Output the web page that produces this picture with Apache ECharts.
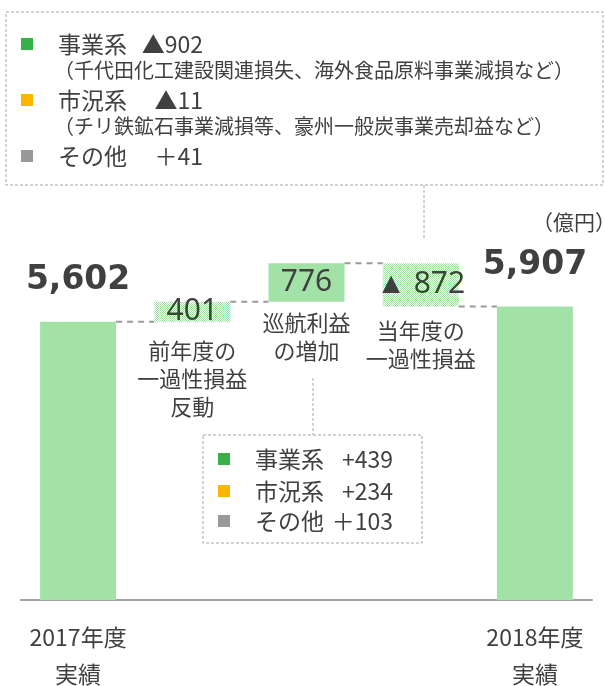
<!DOCTYPE html>
<html>
<head>
<meta charset="utf-8">
<script src="https://cdn.jsdelivr.net/npm/echarts@6/dist/echarts.min.js"></script>
<style>
html,body{margin:0;padding:0;background:#fff;}
#chart{width:605px;height:686px;}
</style>
</head>
<body>
<div id="chart"></div>
<script>
// ---- data ----
const categories = ['2017年度\n実績', '前年度の\n一過性損益\n反動', '巡航利益\nの増加', '当年度の\n一過性損益', '2018年度\n実績'];
const startValue = 5602;
const changes = [401, 776, -872];
const endValue = 5907;
const valueLabels = ['5,602', '401', '776', '▲ 872', '5,907'];
const topNoteNames = ['事業系', '市況系', 'その他'];
const topNoteValues = ['▲902', '▲11', '＋41'];
const topNoteDetails = ['（千代田化工建設関連損失、海外食品原料事業減損など）', '（チリ鉄鉱石事業減損等、豪州一般炭事業売却益など）', ''];
const midNoteNames = ['事業系', '市況系', 'その他'];
const midNoteValues = ['+439', '+234', '＋103'];
const noteColors = ['#37b047', '#fbb700', '#999999'];
const unitLabel = '（億円）';

// ---- build waterfall ----
const baseData = [0];
const barData = [startValue];
const levels = [startValue];
let cur = startValue;
changes.forEach(c => {
  const next = cur + c;
  baseData.push(Math.min(cur, next));
  barData.push(Math.abs(c));
  cur = next;
  levels.push(cur);
});
baseData.push(0);
barData.push(endValue);

const GREEN = '#a3e2a7';
const pc = document.createElement('canvas');
pc.width = 2; pc.height = 2;
const pctx = pc.getContext('2d');
pctx.fillStyle = '#ffffff'; pctx.fillRect(0, 0, 2, 2);
pctx.fillStyle = '#9fe0a3'; pctx.fillRect(0, 0, 1, 1); pctx.fillRect(1, 1, 1, 1);
const pattern = { image: pc, repeat: 'repeat' };

const CJK = '"Noto Sans CJK JP", "Noto Sans", sans-serif';
const TXT = '#404040';
const BW = 76;

const labelDist = [0, 15, 7, 10, 0];

const chart = echarts.init(document.getElementById('chart'), null, { renderer: 'canvas' });

const graphics = [];
// top note box
graphics.push({ type: 'rect', shape: { x: 6, y: 12, width: 597, height: 173 }, style: { fill: 'none', stroke: '#a6a6a6', lineWidth: 1, lineDash: [3, 2] } });
graphics.push({ type: 'line', shape: { x1: 424, y1: 185, x2: 424, y2: 238 }, style: { stroke: '#a6a6a6', lineWidth: 1, lineDash: [3, 2] } });
const topRows = [44, 100, 156];
const detailRows = [70, 126];
topNoteNames.forEach((n, i) => {
  graphics.push({ type: 'rect', shape: { x: 21, y: topRows[i] - 6, width: 12, height: 12 }, style: { fill: noteColors[i] } });
  graphics.push({ type: 'text', x: 58, y: topRows[i], style: { text: n, font: '23px ' + CJK, fill: TXT, textVerticalAlign: 'middle' } });
  graphics.push({ type: 'text', x: 203, y: topRows[i], style: { text: topNoteValues[i], font: '23px ' + CJK, fill: TXT, textAlign: 'right', textVerticalAlign: 'middle' } });
  if (topNoteDetails[i]) {
    graphics.push({ type: 'text', x: 54, y: detailRows[i], style: { text: topNoteDetails[i], font: '20px ' + CJK, fill: TXT, textVerticalAlign: 'middle' } });
  }
});
graphics.push({ type: 'text', x: 532, y: 222, style: { text: unitLabel, font: '21px ' + CJK, fill: TXT, textVerticalAlign: 'middle' } });
// middle note box
graphics.push({ type: 'rect', shape: { x: 203, y: 435, width: 219, height: 108 }, style: { fill: 'none', stroke: '#a6a6a6', lineWidth: 1, lineDash: [3, 2] } });
graphics.push({ type: 'line', shape: { x1: 313, y1: 378, x2: 313, y2: 435 }, style: { stroke: '#a6a6a6', lineWidth: 1, lineDash: [3, 2] } });
const midRows = [459, 491, 521];
midNoteNames.forEach((n, i) => {
  graphics.push({ type: 'rect', shape: { x: 218, y: midRows[i] - 6, width: 12, height: 12 }, style: { fill: noteColors[i] } });
  graphics.push({ type: 'text', x: 255, y: midRows[i], style: { text: n, font: '23px ' + CJK, fill: TXT, textVerticalAlign: 'middle' } });
  graphics.push({ type: 'text', x: 393, y: midRows[i], style: { text: midNoteValues[i], font: '23px ' + CJK, fill: TXT, textAlign: 'right', textVerticalAlign: 'middle' } });
});

const option = {
  animation: false,
  grid: { left: 21, right: 13, top: 202.6, bottom: 86, containLabel: false, outerBoundsMode: 'none' },
  xAxis: {
    type: 'category',
    data: categories,
    axisLine: { lineStyle: { color: '#a0a0a0', width: 2 } },
    axisTick: { show: false },
    axisLabel: {
      interval: 0, margin: 19, fontSize: 23, lineHeight: 37, color: TXT, fontFamily: CJK,
      formatter: (v, i) => (i === 0 || i === categories.length - 1) ? v : ''
    }
  },
  yAxis: { type: 'value', min: 0, max: 8000, show: false, splitLine: { show: false } },
  series: [
    {
      name: 'base', type: 'bar', stack: 'w', barWidth: BW, silent: true,
      itemStyle: { color: 'transparent' },
      data: baseData.map((v, i) => ({
        value: v,
        label: (i > 0 && i < categories.length - 1) ? {
          show: true, position: 'insideTop', distance: labelDist[i],
          formatter: categories[i], fontSize: 22, lineHeight: 28, color: TXT, fontFamily: CJK
        } : { show: false }
      }))
    },
    {
      name: 'value', type: 'bar', stack: 'w', barWidth: BW,
      data: barData.map((v, i) => {
        const ends = (i === 0 || i === barData.length - 1);
        return {
          value: v,
          itemStyle: { color: (i === 1 || i === 3) ? pattern : GREEN },
          label: ends ? {
            show: true, position: 'top', distance: 25, formatter: valueLabels[i],
            fontSize: 33, fontWeight: 'bold', fontFamily: '"DejaVu Sans", sans-serif', color: TXT
          } : {
            show: true, position: 'inside', formatter: valueLabels[i],
            fontSize: 30, fontFamily: '"Noto Sans", sans-serif', color: TXT
          }
        };
      })
    },
    {
      name: 'connector', type: 'custom', silent: true, z: 1,
      data: levels.map((lv, i) => [i, lv]),
      renderItem: (params, api) => {
        const i = api.value(0), lv = api.value(1);
        const p0 = api.coord([i, lv]);
        const p1 = api.coord([i + 1, lv]);
        return {
          type: 'line',
          shape: { x1: p0[0] + BW / 2, y1: p0[1], x2: p1[0] - BW / 2, y2: p1[1] },
          style: { stroke: '#9a9a9a', lineWidth: 2, lineDash: [6, 5] }
        };
      }
    }
  ],
  graphic: graphics
};
chart.setOption(option);
</script>
</body>
</html>
